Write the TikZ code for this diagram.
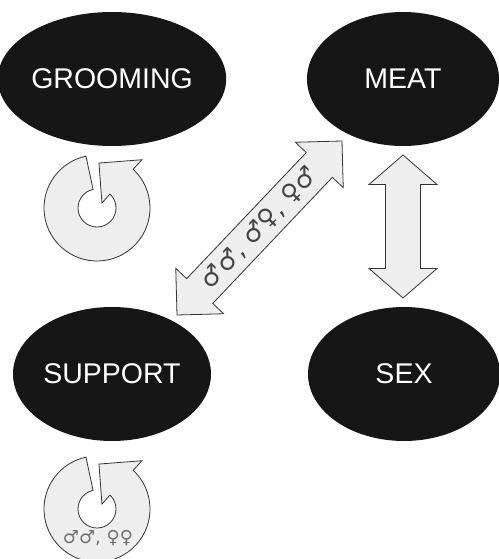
\documentclass[tikz,border=0pt]{standalone}
\usepackage{fontspec}
\setmainfont{Liberation Sans}
\newfontfamily\symfont{DejaVu Sans}
\usetikzlibrary{calc,shapes.geometric}
\definecolor{ellfill}{HTML}{161616}
\definecolor{arrfill}{HTML}{EEEEEE}
\definecolor{arrline}{HTML}{333333}
\definecolor{diagtext}{HTML}{444444}
\definecolor{ringtext}{HTML}{707070}
\tikzset{
  topic/.style={ellipse, fill=ellfill, draw=none, minimum width=198pt,
    minimum height=134pt, inner sep=0pt, text=white,
    font=\fontsize{28.5}{30}\selectfont},
  blockarrow/.style={fill=arrfill, draw=arrline, line width=0.8pt, line join=miter},
  ringarrow/.style={fill=arrfill, draw=arrline, line width=0.8pt, line join=miter},
  recycle/.pic={
    \path[ringarrow] (102:53) -- (102:19)
      arc[start angle=102, end angle=407, radius=19]
      -- (45:7) -- (87.5:45) -- (47:66) -- (47:53)
      arc[start angle=407, end angle=102, radius=53] -- cycle;
  },
}
\newcommand\dblarrow[5]{%
  \path[blockarrow] (#1)
   -- ($(#1)!#5!(#2)!#4!90:(#2)$)
   -- ($(#1)!#5!(#2)!#3!90:(#2)$)
   -- ($(#2)!#5!(#1)!#3!-90:(#1)$)
   -- ($(#2)!#5!(#1)!#4!-90:(#1)$)
   -- (#2)
   -- ($(#2)!#5!(#1)!#4!90:(#1)$)
   -- ($(#2)!#5!(#1)!#3!90:(#1)$)
   -- ($(#1)!#5!(#2)!#3!-90:(#2)$)
   -- ($(#1)!#5!(#2)!#4!-90:(#2)$)
   -- cycle;}
\begin{document}
\begin{tikzpicture}[x=1pt,y=1pt]
  \useasboundingbox (0,0) rectangle (498,-559);
  \node[topic] (groom) at (112,-79) {\raisebox{-2.5pt}{GROOMING}};
  \node[topic, minimum width=192pt] (meat) at (403,-79) {\raisebox{-2.5pt}{MEAT}};
  \node[topic] (support) at (112,-374) {SUPPORT};
  \node[topic, minimum width=192pt] (sex) at (404,-374) {SEX};
  % self loops
  \pic (loopA) at (97,-208) {recycle};
  \pic (loopB) at (97,-509) {recycle};
  \node[text=ringtext, font=\symfont\fontsize{18}{20}\selectfont, inner sep=0pt]
    (ringlabel) at (98,-538) {♂♂, ♀♀};
  % vertical double arrow MEAT <-> SEX
  \coordinate (vA) at (403,-298);
  \coordinate (vB) at (403,-155);
  \dblarrow{vA}{vB}{17.5pt}{34pt}{29.5pt}
  % diagonal double arrow SUPPORT <-> MEAT
  \coordinate (dA) at (177,-315);
  \coordinate (dB) at (342,-141);
  \dblarrow{dA}{dB}{18pt}{33pt}{33pt}
  \node[rotate=46.5, text=diagtext, font=\symfont\fontsize{25}{27}\selectfont, inner sep=0pt]
    (diaglabel) at ($(dA)!0.5!(dB)$) {♂♂, ♂♀, ♀♂};
\end{tikzpicture}
\end{document}
